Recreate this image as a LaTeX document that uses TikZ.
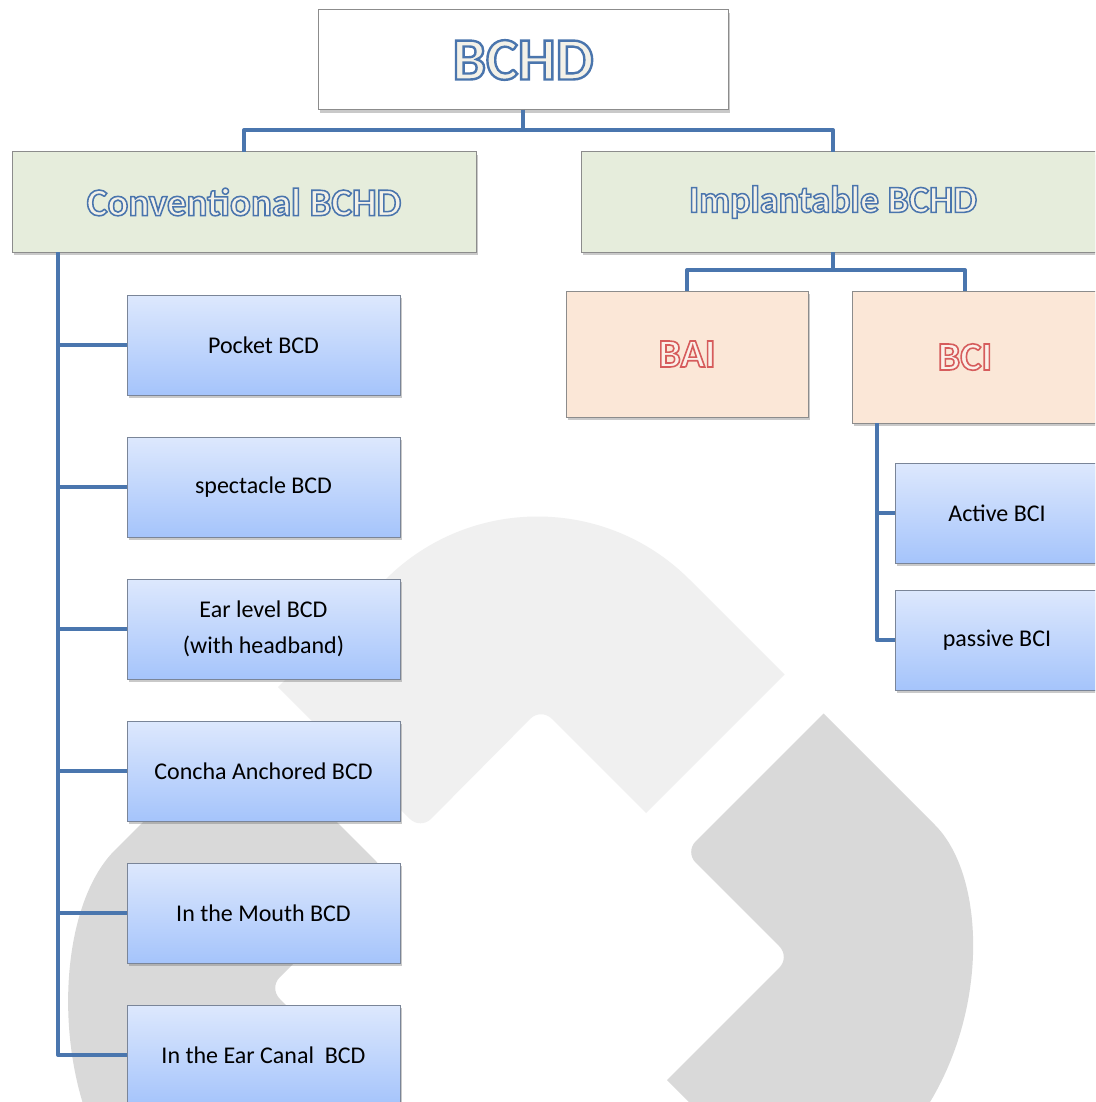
\documentclass[tikz,border=0pt]{standalone}
\usepackage{fontspec}
\setmainfont{Carlito}
\newfontfamily\headfont[FakeBold=4]{Carlito Bold}
\usetikzlibrary{shadows,calc}
\definecolor{connblue}{HTML}{4A76AE}
\definecolor{boxborder}{HTML}{8C8C8C}
\definecolor{leafborder}{HTML}{7A8598}
\definecolor{leaftop}{HTML}{DDE8FD}
\definecolor{leafbot}{HTML}{A5C4FB}
\definecolor{greenfill}{HTML}{E6EDDC}
\definecolor{peachfill}{HTML}{FBE7D7}
\definecolor{headfill}{HTML}{F3F1E8}
\definecolor{redfill}{HTML}{FBEFE8}
\definecolor{wmlight}{HTML}{F0F0F0}
\definecolor{wmdark}{HTML}{D9D9D9}
\newcommand{\strokergb}[1]{\special{pdf:literal direct #1 RG}}
\newcommand{\outlined}[4]{{\color{#2}\strokergb{#1}\headfont\fontsize{#3}{#3}\selectfont #4}}
\tikzset{
  conn/.style={draw=connblue, line width=4pt, line join=round},
  boxbase/.style={draw=boxborder, line width=1pt, inner sep=0pt, outer sep=0pt,
    drop shadow={shadow xshift=2pt, shadow yshift=-3pt, opacity=0.35, fill=black!60}},
  topbox/.style={boxbase, fill=white, minimum width=410pt, minimum height=100pt},
  catbox/.style={boxbase, fill=greenfill, minimum height=100pt},
  subbox/.style={boxbase, fill=peachfill},
  leaf/.style={boxbase, draw=leafborder, top color=leaftop, bottom color=leafbot,
    minimum height=100pt, align=center, text=black,
    font=\fontsize{24}{36}\selectfont},
  lleaf/.style={leaf, minimum width=273pt},
  rleaf/.style={leaf, minimum width=204pt}
}
\begin{document}
\begin{tikzpicture}[x=1pt,y=-1pt]
\useasboundingbox (0,0) rectangle (1095,1102);
\clip (0,0) rectangle (1095,1102);
\fill[white] (0,0) rectangle (1095,1102);
% watermark
\fill[wmlight] (278,687) -- (385.5,579.5) .. controls (469.5,495.5) and (605.5,495.5) .. (689.5,579.5)
  -- (784.5,674.5) -- (646,813) [rounded corners=15pt] -- (541,708) -- (420.5,829.5)
  [sharp corners] -- cycle;
\fill[wmdark] (823.5,713.5) -- (935,825) .. controls (985,875) and (990,1010) .. (925,1110)
  -- (895,1150) -- (737,1150) -- (667,1080) [rounded corners=15pt] -- (790,957) -- (685,852)
  [sharp corners] -- cycle;
\fill[wmdark] (240,725) -- (115,850) .. controls (65,900) and (55,1020) .. (85,1110)
  -- (100,1150) -- (431,1150) [rounded corners=15pt] -- (269,988) -- (386,871)
  [sharp corners] -- cycle;
% nodes
\node[topbox] (top) at (523,60) {\outlined{0.29 0.46 0.68}{headfill}{60}{BCHD}};
\node[catbox, minimum width=464pt] (conv) at (244,202)
  {\outlined{0.29 0.46 0.68}{headfill}{39}{Conventional BCHD}};
\node[catbox, anchor=west] (impl) at (581,202)
  {\makebox[504pt]{\outlined{0.29 0.46 0.68}{headfill}{38}{Implantable BCHD}}\hspace*{16pt}};
\node[subbox, minimum width=242pt, minimum height=126pt] (bai) at (687,354)
  {\outlined{0.84 0.36 0.36}{redfill}{40}{BAI}};
\node[subbox, anchor=north west, minimum height=132pt] (bci) at (852,291)
  {\makebox[226pt]{\outlined{0.84 0.36 0.36}{redfill}{40}{BCI}}\hspace*{20pt}};
\node[lleaf] (l1) at (263.5,345) {Pocket BCD};
\node[lleaf] (l2) at (263.5,487) {spectacle BCD};
\node[lleaf] (l3) at (263.5,629) {Ear level BCD\\(with headband)};
\node[lleaf] (l4) at (263.5,771) {Concha Anchored BCD};
\node[lleaf] (l5) at (263.5,913) {In the Mouth BCD};
\node[lleaf] (l6) at (263.5,1055) {In the Ear Canal\ \ BCD};
\node[rleaf] (r1) at (997,513) {Active BCI};
\node[rleaf] (r2) at (997,640) {passive BCI};
% connectors
\draw[conn] (top.south) -- ++(0,20) -| (conv.north);
\draw[conn] (top.south) -- ++(0,20) -| ([xshift=-8pt]impl.north);
\draw[conn] ([xshift=-8pt]impl.south) -- ++(0,18) -| (bai.north);
\draw[conn] ([xshift=-8pt]impl.south) -- ++(0,18) -| ([xshift=-10pt]bci.north);
\draw[conn] ([xshift=46pt]conv.south west) |- (l6.west);
\foreach \n in {l1,l2,l3,l4,l5}{
  \draw[conn] ([xshift=46pt]conv.south west) |- (\n.west);
}
\draw[conn] ([xshift=25pt]bci.south west) |- (r2.west);
\draw[conn] ([xshift=25pt]bci.south west) |- (r1.west);
\end{tikzpicture}
\end{document}
